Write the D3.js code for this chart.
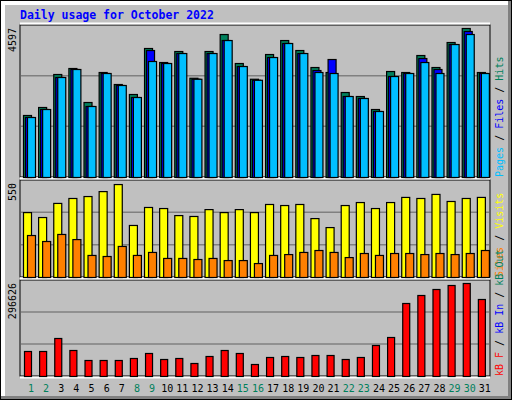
<!DOCTYPE html>
<html><head><meta charset="utf-8">
<script src="https://cdn.jsdelivr.net/npm/d3@7"></script>
<style>body{margin:0;background:#fff}</style></head>
<body><svg id="c" width="512" height="400"></svg>
<script>
const days = d3.range(1,32);
const weekend = [1,2,8,9,15,16,22,23,29,30];
const hits  = [1875,2117,3115,3296,2268,3175,2812,2510,3901,3477,3810,3001,3810,4324,3447,2971,3719,4142,3840,3326,3175,2570,2449,2056,3205,3175,3689,3326,4082,4506,3175];
const files = [1814,2056,3024,3266,2147,3145,2782,2419,3840,3447,3749,2971,3749,4142,3356,2940,3628,4052,3749,3235,3568,2449,2389,1996,3054,3145,3598,3266,4021,4415,3145];
const pages = [1814,2056,3024,3266,2147,3145,2782,2419,3508,3447,3749,2971,3749,4142,3356,2940,3628,4052,3749,3175,3145,2449,2389,1996,3054,3145,3477,3145,4021,4324,3145];
const visits= [368,340,420,448,459,487,527,295,397,391,351,346,385,368,385,368,414,408,414,334,283,408,425,391,425,454,448,471,431,448,454];
const sites = [238,204,244,215,125,119,176,125,142,108,108,102,108,96,96,79,125,130,142,153,142,113,136,125,136,136,130,136,130,136,153];
const kbF   = [0,0,0,0,0,0,0,0,0,0,0,0,0,0,0,0,0,0,0,0,0,0,0,0,0,0,0,0,0,0,0];
const kbIn  = [0,0,0,0,0,0,0,0,0,0,0,0,0,0,0,0,0,0,0,0,0,0,0,0,0,0,0,0,0,0,0];
const kbOut = [77243,77243,117412,80333,49432,49432,49432,55612,71063,52522,55612,40161,61792,80333,71063,37071,58702,61792,58702,64882,64882,52522,58702,95782,120502,225559,250280,268820,281180,287360,237919];
const maxTop=4597, maxMid=550, maxBot=296626;

const svg=d3.select("#c");
// frame
svg.append("rect").attr("x",0).attr("y",0).attr("width",512).attr("height",400).attr("fill","#000");
svg.append("rect").attr("x",1).attr("y",1).attr("width",510).attr("height",398).attr("fill","#808080");
svg.append("rect").attr("x",1).attr("y",1).attr("width",507).attr("height",395).attr("fill","#fff");
svg.append("rect").attr("x",5).attr("y",5).attr("width",503).attr("height",391).attr("fill","#c0c0c0");
svg.append("text").attr("x",20).attr("y",19).text("Daily usage for October 2022")
  .attr("font-family","DejaVu Sans Mono").attr("font-weight","bold").attr("font-size",11.5).attr("fill","#0000ff");

const L=20,R=490;
const x=d3.scaleBand().domain(days).range([L+3,R+2]).paddingInner(0).paddingOuter(0);
const panels=[{t:25,b:177},{t:180,b:277},{t:280,b:376}];
panels.forEach(p=>{
  svg.append("rect").attr("x",L).attr("y",p.t).attr("width",R-L).attr("height",p.b-p.t)
    .attr("fill","none").attr("stroke","#000").attr("stroke-width",1);
  svg.append("line").attr("x1",L).attr("x2",R).attr("y1",p.t-1.5).attr("y2",p.t-1.5).attr("stroke","#fff").attr("stroke-width",2);
  svg.append("line").attr("x1",L).attr("x2",R).attr("y1",p.b+1.5).attr("y2",p.b+1.5).attr("stroke","#fff").attr("stroke-width",2);
  const h=p.b-p.t;
  [1,2].forEach(k=>svg.append("line").attr("x1",L+1).attr("x2",R-1).attr("y1",p.t+h*k/3).attr("y2",p.t+h*k/3).attr("stroke","#808080").attr("stroke-width",1.5));
});
const yT=d3.scaleLinear().domain([0,maxTop]).range([177,25]);
const yM=d3.scaleLinear().domain([0,maxMid]).range([277,180]);
const yB=d3.scaleLinear().domain([0,maxBot]).range([376,280]);
function bars(data,y,off,w,col){
  svg.append("g").selectAll("rect").data(data).join("rect")
   .attr("x",(d,i)=>x(days[i])+off+0.5).attr("y",d=>y(d)+0.5).attr("width",w).attr("height",d=>y(0)-y(d))
   .attr("fill",col).attr("stroke","#000").attr("stroke-width",1.2);
}
bars(hits,yT,0,8,"#00805c");
bars(files,yT,2,8,"#0000ff");
bars(pages,yT,4,8,"#00bfff");
bars(visits,yM,0,8,"#ffff00");
bars(sites,yM,4,8,"#ff8000");
bars(kbOut,yB,1,7,"#ff0000");

const mono="DejaVu Sans Mono";
[[maxTop,25],[maxMid,180],[maxBot,280]].forEach(([v,t])=>{
  svg.append("text").attr("transform",`translate(16,${t+3}) rotate(-90)`).attr("text-anchor","end")
   .attr("font-family",mono).attr("font-size",10).text(v);
});
svg.append("g").selectAll("text").data(days).join("text")
  .attr("x",d=>x(d)+8).attr("y",392).attr("text-anchor","middle").attr("font-family",mono).attr("font-size",10)
  .attr("fill",d=>weekend.includes(d)?"#00805c":"#000").text(d=>d);

function rlabel(yBottom,parts){
  const t=svg.append("text").attr("transform",`translate(503,${yBottom}) rotate(-90)`)
    .attr("font-family",mono).attr("font-size",10);
  parts.forEach(([s,c])=>t.append("tspan").attr("fill",c).text(s));
}
rlabel(177,[["Pages","#00bfff"],[" / ","#000"],["Files","#0000ff"],[" / ","#000"],["Hits","#00805c"]]);
rlabel(277,[["Sites","#ff8000"],[" / ","#000"],["Visits","#ffff00"]]);
rlabel(376,[["kB F","#ff0000"],[" / ","#000"],["kB In","#0000ff"],[" / ","#000"],["kB Out","#00805c"]]);
</script></body></html>
